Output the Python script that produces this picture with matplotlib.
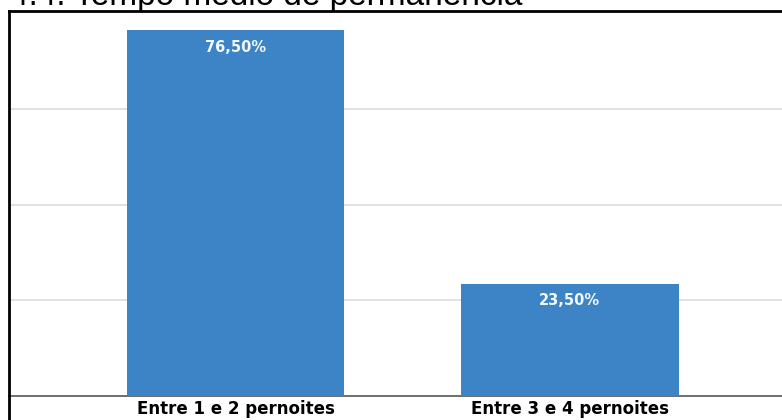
import matplotlib.pyplot as plt
from matplotlib.lines import Line2D

categories = ['Entre 1 e 2 pernoites', 'Entre 3 e 4 pernoites']
values = [76.5, 23.5]
labels = ['76,50%', '23,50%']

plt.rcParams['font.family'] = ['DejaVu Sans']

fig = plt.figure(figsize=(7.82, 4.2), dpi=100)
ax = fig.add_axes([9 / 782, 24 / 420, 1 - 9 / 782, (396 - 11) / 420])

x = range(len(categories))
bars = ax.bar(x, values, width=0.65, color='#3d84c6', zorder=3)
for b, lab in zip(bars, labels):
    ax.text(b.get_x() + b.get_width() / 2, b.get_height() - 2.0, lab,
            ha='center', va='top', color='#f4f8fc', fontsize=10.5, fontweight='bold', zorder=4)

ax.set_xlim(-0.677, 1.634)
ax.set_ylim(0, 80.5)
ax.set_yticks([20, 40, 60])
ax.yaxis.grid(True, color='#dcdcdc', linewidth=1.2, zorder=0)
ax.tick_params(axis='y', left=False, labelleft=False)
ax.set_xticks(list(x))
ax.set_xticklabels(categories, fontsize=12, fontweight='bold')
ax.tick_params(axis='x', length=0, pad=3)

ax.spines['right'].set_visible(False)
ax.spines['top'].set_visible(False)
ax.spines['left'].set_visible(False)
ax.spines['bottom'].set_color('#555555')
ax.spines['bottom'].set_linewidth(1.2)

# outer black frame (left and top)
fig.add_artist(Line2D([8.5 / 782, 8.5 / 782], [0, 1 - 11 / 420], transform=fig.transFigure,
                      color='black', linewidth=2))
fig.add_artist(Line2D([8.5 / 782, 1], [1 - 11 / 420, 1 - 11 / 420], transform=fig.transFigure,
                      color='black', linewidth=2))

# title, cut off at the top in the original screenshot
fig.text(522 / 782, 1 - 5 / 420, '4.4. Tempo médio de permanência', fontsize=24,
         family='Liberation Sans', ha='right', va='baseline', color='black')

fig.savefig('out.png', dpi=100)
